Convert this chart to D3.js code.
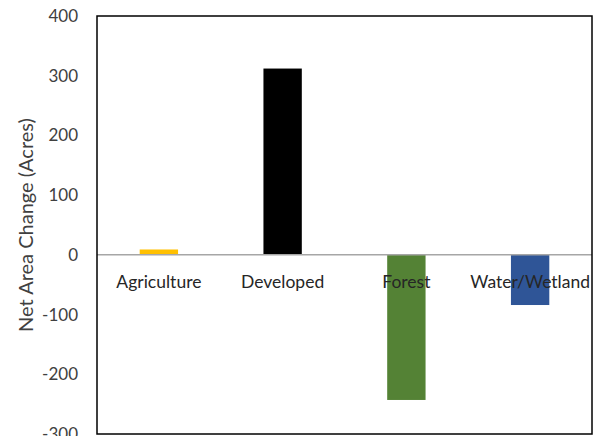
<!DOCTYPE html>
<html><head><meta charset="utf-8">
<script src="https://cdn.jsdelivr.net/npm/d3@7"></script>
<style>body{margin:0;background:#fff}</style>
</head><body>
<svg id="c" width="597" height="436"></svg>
<script>
const categories = ["Agriculture", "Developed", "Forest", "Water/Wetland"];
const values = [9, 312, -243, -84];
const colors = ["#FFC000", "#000000", "#548235", "#2F5597"];
const yTicks = [-300, -200, -100, 0, 100, 200, 300, 400];
const yTitle = "Net Area Change (Acres)";

const svg = d3.select("#c");
const m = {l: 97, r: 5, t: 16, b: 2};
const W = 597, H = 436;
const x = d3.scaleBand().domain(categories).range([m.l, W - m.r]).paddingInner(0.69).paddingOuter(0.345);
const y = d3.scaleLinear().domain([-300, 400]).range([H - m.b, m.t]);
const font = "Lato, 'Open Sans', sans-serif";

svg.selectAll("rect.bar").data(categories).enter().append("rect")
  .attr("x", d => x(d))
  .attr("width", x.bandwidth())
  .attr("y", (d, i) => y(Math.max(0, values[i])))
  .attr("height", (d, i) => Math.abs(y(values[i]) - y(0)))
  .attr("fill", (d, i) => colors[i]);

// zero line
svg.append("line").attr("x1", m.l).attr("x2", W - m.r).attr("y1", y(0)).attr("y2", y(0))
  .attr("stroke", "#A6A6A6").attr("stroke-width", 1.5);

// frame
svg.append("rect").attr("x", m.l).attr("y", m.t).attr("width", W - m.r - m.l).attr("height", H - m.b - m.t)
  .attr("fill", "none").attr("stroke", "#000").attr("stroke-width", 1.5);

// y axis
const ya = d3.axisLeft(y).tickValues(yTicks).tickSize(0).tickPadding(19).tickFormat(d => String(d));
const g = svg.append("g").attr("transform", `translate(${m.l},0)`).call(ya);
g.select(".domain").remove();
g.selectAll("text").attr("font-family", font).attr("font-size", 17).attr("fill", "#404040");

// category labels
svg.selectAll("text.cat").data(categories).enter().append("text")
  .attr("x", d => x(d) + x.bandwidth() / 2)
  .attr("y", y(0) + 33)
  .attr("text-anchor", "middle")
  .attr("font-family", font).attr("font-size", 17.5).attr("fill", "#262626")
  .text(d => d);

svg.append("text").attr("transform", `translate(33,${(m.t + H - m.b) / 2}) rotate(-90)`)
  .attr("text-anchor", "middle").attr("font-family", font).attr("font-size", 20).attr("fill", "#404040")
  .text(yTitle);
</script>
</body></html>
